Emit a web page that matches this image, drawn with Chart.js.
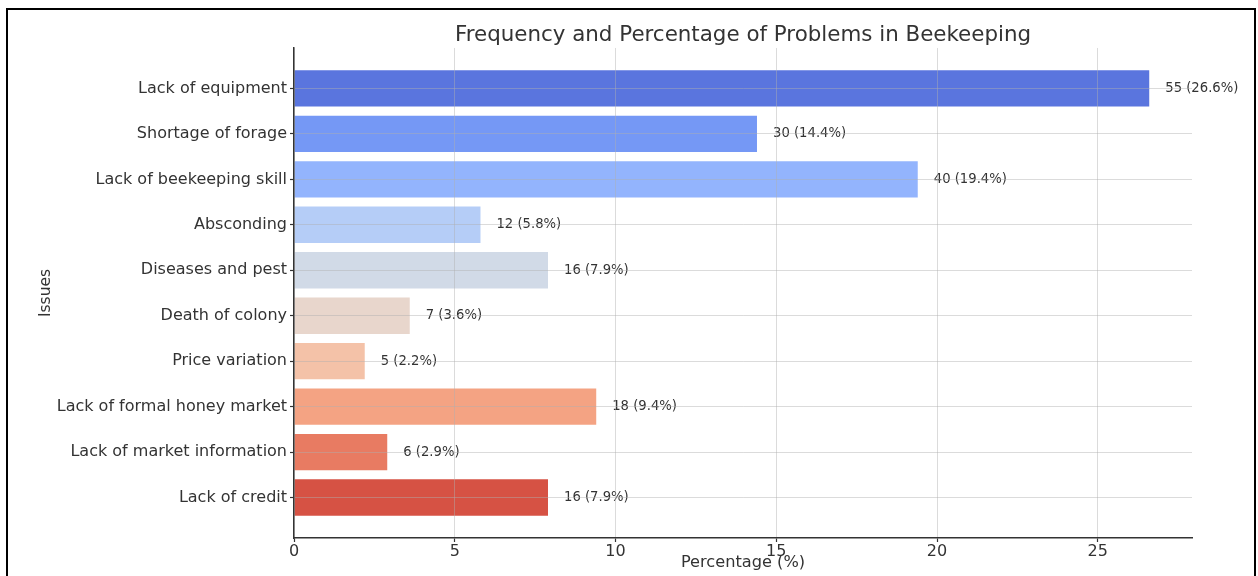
<!DOCTYPE html>
<html>
<head>
<meta charset="utf-8">
<script src="https://cdn.jsdelivr.net/npm/chart.js@4/dist/chart.umd.min.js"></script>
<style>
  html, body { margin: 0; padding: 0; background: #fff; }
  #wrap { position: relative; width: 1258px; height: 576px; overflow: hidden; }
  #frame { position: absolute; left: 6px; top: 8px; width: 1250px; height: 600px; border: 2px solid #000; box-sizing: border-box; }
  canvas { position: absolute; left: 0; top: 0; }
</style>
</head>
<body>
<div id="wrap">
  <div id="frame"></div>
  <canvas id="chart" width="1258" height="576"></canvas>
</div>
<script>
// --- Data ---
const issues = [
  "Lack of equipment",
  "Shortage of forage",
  "Lack of beekeeping skill",
  "Absconding",
  "Diseases and pest",
  "Death of colony",
  "Price variation",
  "Lack of formal honey market",
  "Lack of market information",
  "Lack of credit"
];
const counts = [55, 30, 40, 12, 16, 7, 5, 18, 6, 16];
const percentages = [26.6, 14.4, 19.4, 5.8, 7.9, 3.6, 2.2, 9.4, 2.9, 7.9];
const xTicks = [0, 5, 10, 15, 20, 25];
const barColors = [
  "#5a75de", "#7598f5", "#93b4fd", "#b5cdf7", "#d1dae7",
  "#e8d6cc", "#f4c2a8", "#f4a383", "#e87b62", "#d65244"
];

const FONT = "'DejaVu Sans', sans-serif";
const TEXT = "#333";

// --- value labels at bar ends ---
const valueLabels = {
  id: "valueLabels",
  afterDatasetsDraw(chart) {
    const ctx = chart.ctx;
    const meta = chart.getDatasetMeta(0);
    ctx.save();
    ctx.font = "13.2px " + FONT;
    ctx.fillStyle = TEXT;
    ctx.textAlign = "left";
    ctx.textBaseline = "middle";
    meta.data.forEach((bar, i) => {
      ctx.fillText(counts[i] + " (" + percentages[i] + "%)", bar.x + 16, bar.y);
    });
    ctx.restore();
  }
};

function gridStyle() {
  return {
    z: 1,
    offset: false,
    color: "rgba(175,175,175,0.45)",
    lineWidth: 1,
    borderDash: [3, 2],
    drawTicks: true,
    tickLength: 4,
    tickColor: "#333",
    tickBorderDash: [],
    tickWidth: 1.2
  };
}

new Chart(document.getElementById("chart").getContext("2d"), {
  type: "bar",
  data: {
    datasets: [{
      data: issues.map((name, i) => ({ x: percentages[i], y: i })),
      backgroundColor: barColors,
      borderWidth: 0,
      barPercentage: 0.8,
      categoryPercentage: 1
    }]
  },
  options: {
    indexAxis: "y",
    responsive: false,
    animation: false,
    layout: { padding: { left: 30, right: 66, top: 0, bottom: 0 } },
    plugins: {
      legend: { display: false },
      tooltip: { enabled: false },
      title: {
        display: true,
        fullSize: false,
        text: "Frequency and Percentage of Problems in Beekeeping",
        color: TEXT,
        font: { family: FONT, size: 21.4, weight: "normal" },
        padding: { top: 22.2, bottom: 0.1 }
      }
    },
    scales: {
      x: {
        type: "linear",
        min: 0,
        max: 27.93,
        offset: false,
        afterBuildTicks: s => { s.ticks = xTicks.map(v => ({ value: v })); },
        afterFit: s => { s.height = 38; },
        ticks: { color: TEXT, font: { family: FONT, size: 16 }, padding: 0 },
        grid: gridStyle(),
        border: { display: true, color: "#333", width: 1.5, z: 2 },
        title: {
          display: true,
          text: "Percentage (%)",
          color: TEXT,
          font: { family: FONT, size: 16.2 },
          padding: { top: 0, bottom: 3 }
        }
      },
      y: {
        type: "linear",
        reverse: true,
        min: -0.89,
        max: 9.89,
        offset: false,
        afterBuildTicks: s => { s.ticks = issues.map((n, i) => ({ value: i })); },
        afterFit: s => { s.width = 264; },
        ticks: {
          color: TEXT,
          font: { family: FONT, size: 16 },
          padding: 3,
          autoSkip: false,
          callback: v => issues[Math.round(v)] || ""
        },
        grid: gridStyle(),
        border: { display: true, color: "#333", width: 1.5, z: 2 },
        title: {
          display: true,
          text: "Issues",
          color: TEXT,
          font: { family: FONT, size: 15.5 },
          padding: { top: 7, bottom: 0 }
        }
      }
    }
  },
  plugins: [valueLabels]
});
</script>
</body>
</html>
